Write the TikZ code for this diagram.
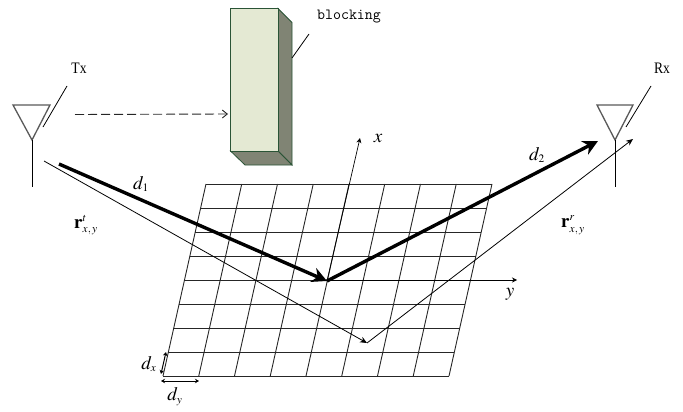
\documentclass[tikz,border=0pt]{standalone}
\usepackage{amsmath}
\usepackage{mathptmx}
\usepackage{fontspec}
\usepackage{graphicx}
\usepackage{tikz}
\usetikzlibrary{arrows.meta,calc,positioning}
\newfontfamily\tagfont{Liberation Serif}
\definecolor{blockfront}{RGB}{228,233,211}
\definecolor{blockside}{RGB}{128,132,116}
\definecolor{blockedge}{RGB}{42,84,54}

\begin{document}
\begin{tikzpicture}[
      x=1pt, y=-1pt,
      gridline/.style={draw=black!85, line width=0.9pt},
      antenna/.style={draw=black!65, line width=1.3pt, line join=miter},
      tagline/.style={draw=black, line width=0.8pt},
      thinray/.style={draw=black, line width=0.8pt, -{Stealth[length=7pt,width=6pt]}},
      thickray/.style={draw=black, line width=3.4pt, -{Stealth[length=15pt,width=15pt]}},
      axisline/.style={draw=black, line width=0.7pt, -{Stealth[length=5pt,width=5pt]}},
      spacing/.style={draw=black, line width=1pt, {Stealth[length=4pt,width=4.5pt]}-{Stealth[length=4pt,width=4.5pt]}},
      tagtext/.style={font=\tagfont\fontsize{16}{16}\selectfont, inner sep=0pt},
      symbol/.style={font=\fontsize{19}{19}\selectfont, inner sep=0pt}
    ]
      \useasboundingbox (0,0) rectangle (683,412);

      % Grid
      \foreach \i in {0,...,8} {
        \draw[gridline] ({163+43*\i/8},{376-24*\i}) -- ({449+43*\i/8},{376-24*\i});
        \draw[gridline] ({163+35.75*\i},376) -- ({206+35.75*\i},184);
      }

      % Blocking object
      \coordinate (b1) at (230.5,8.5);
      \coordinate (b2) at (278,8.5);
      \coordinate (b3) at (278,151);
      \coordinate (b4) at (230.5,151);
      \coordinate (b5) at (292,22.5);
      \coordinate (b6) at (292,165);
      \coordinate (b7) at (245,165);
      \draw[blockedge, fill=blockside, line width=0.8pt] (b2) -- (b5) -- (b6) -- (b3) -- cycle;
      \draw[blockedge, fill=blockside, line width=0.8pt] (b4) -- (b3) -- (b6) -- (b7) -- cycle;
      \draw[blockedge, fill=blockfront, line width=0.8pt] (b1) rectangle (b3);
      \coordinate (blockTagA) at (292,58);
      \coordinate (blockTagB) at (309,34);
      \draw[tagline] (blockTagA) -- (blockTagB);
      \node[inner sep=0pt, font=\ttfamily\fontsize{15.5}{15.5}\selectfont] (blocking) at (349,17) {\scalebox{1}[1]{blocking}};

      % Tx antenna
      \coordinate (txL) at (13,105);
      \coordinate (txR) at (50,105);
      \coordinate (txT) at (32,140);
      \coordinate (txB) at (32,187);
      \draw[antenna] (txL) -- (txR) -- (txT) -- cycle;
      \draw[tagline, line width=1pt] (txT) -- (txB);
      \coordinate (txTagA) at (43,127);
      \coordinate (txTagB) at (67,86);
      \draw[tagline] (txTagA) -- (txTagB);
      \node[tagtext] (tx) at (79,68) {\scalebox{0.85}[1]{Tx}};

      % Rx antenna
      \coordinate (rxL) at (597,105);
      \coordinate (rxR) at (633,105);
      \coordinate (rxT) at (615,140);
      \coordinate (rxB) at (615,187);
      \draw[antenna] (rxL) -- (rxR) -- (rxT) -- cycle;
      \draw[tagline, line width=1pt] (rxT) -- (rxB);
      \coordinate (rxTagA) at (626,127);
      \coordinate (rxTagB) at (651,86);
      \draw[tagline] (rxTagA) -- (rxTagB);
      \node[tagtext] (rx) at (662,68) {\scalebox{0.85}[1]{Rx}};

      % Blocked path
      \coordinate (dashA) at (75,114.5);
      \coordinate (dashB) at (228,114);
      \draw[black!85, line width=0.9pt, dash pattern=on 9pt off 4pt, -{Straight Barb[length=5pt,width=8pt]}] (dashA) -- (dashB);

      % Axes
      \coordinate (origin) at (327,281);
      \coordinate (xEnd) at (360,138);
      \coordinate (yEnd) at (517,280);
      \draw[axisline] (origin) -- (xEnd);
      \draw[axisline] (origin|-yEnd) -- (yEnd);
      \node[symbol] (xLabel) at (378,138) {$x$};
      \node[symbol] (yLabel) at (510,294) {$y$};

      % Rays
      \coordinate (rayA) at (59,164);
      \coordinate (rayB) at (598,141);
      \coordinate (thinA) at (44,161);
      \coordinate (thinM) at (367,343);
      \coordinate (thinB) at (633,139);
      \draw[thickray] (rayA) -- (origin);
      \draw[thickray] (origin) -- (rayB);
      \draw[thinray] (thinA) -- (thinM);
      \draw[thinray] (thinM) -- (thinB);
      \node[symbol] (d1) at (141,184) {$d_{\scriptscriptstyle 1}$};
      \node[symbol] (d2) at (537,155) {$d_{\scriptscriptstyle 2}$};
      \node[symbol] (rt) at (86,225) {$\mathbf{r}_{\scriptscriptstyle x,\,y}^{\scriptscriptstyle t}$};
      \node[symbol] (rr) at (573,225) {$\mathbf{r}_{\scriptscriptstyle x,\,y}^{\scriptscriptstyle r}$};

      % Cell size
      \coordinate (dxA) at (166,352);
      \coordinate (dxB) at (161,374);
      \coordinate (dyA) at (161,381);
      \coordinate (dyB) at (199,381);
      \draw[spacing] (dxA) -- (dxB);
      \draw[spacing] (dyA) -- (dyB);
      \node[symbol] (dx) at (149,364) {$d_{\scriptscriptstyle x}$};
      \node[symbol] (dy) at (175,397) {$d_{\scriptscriptstyle y}$};
    \end{tikzpicture}
\end{document}
